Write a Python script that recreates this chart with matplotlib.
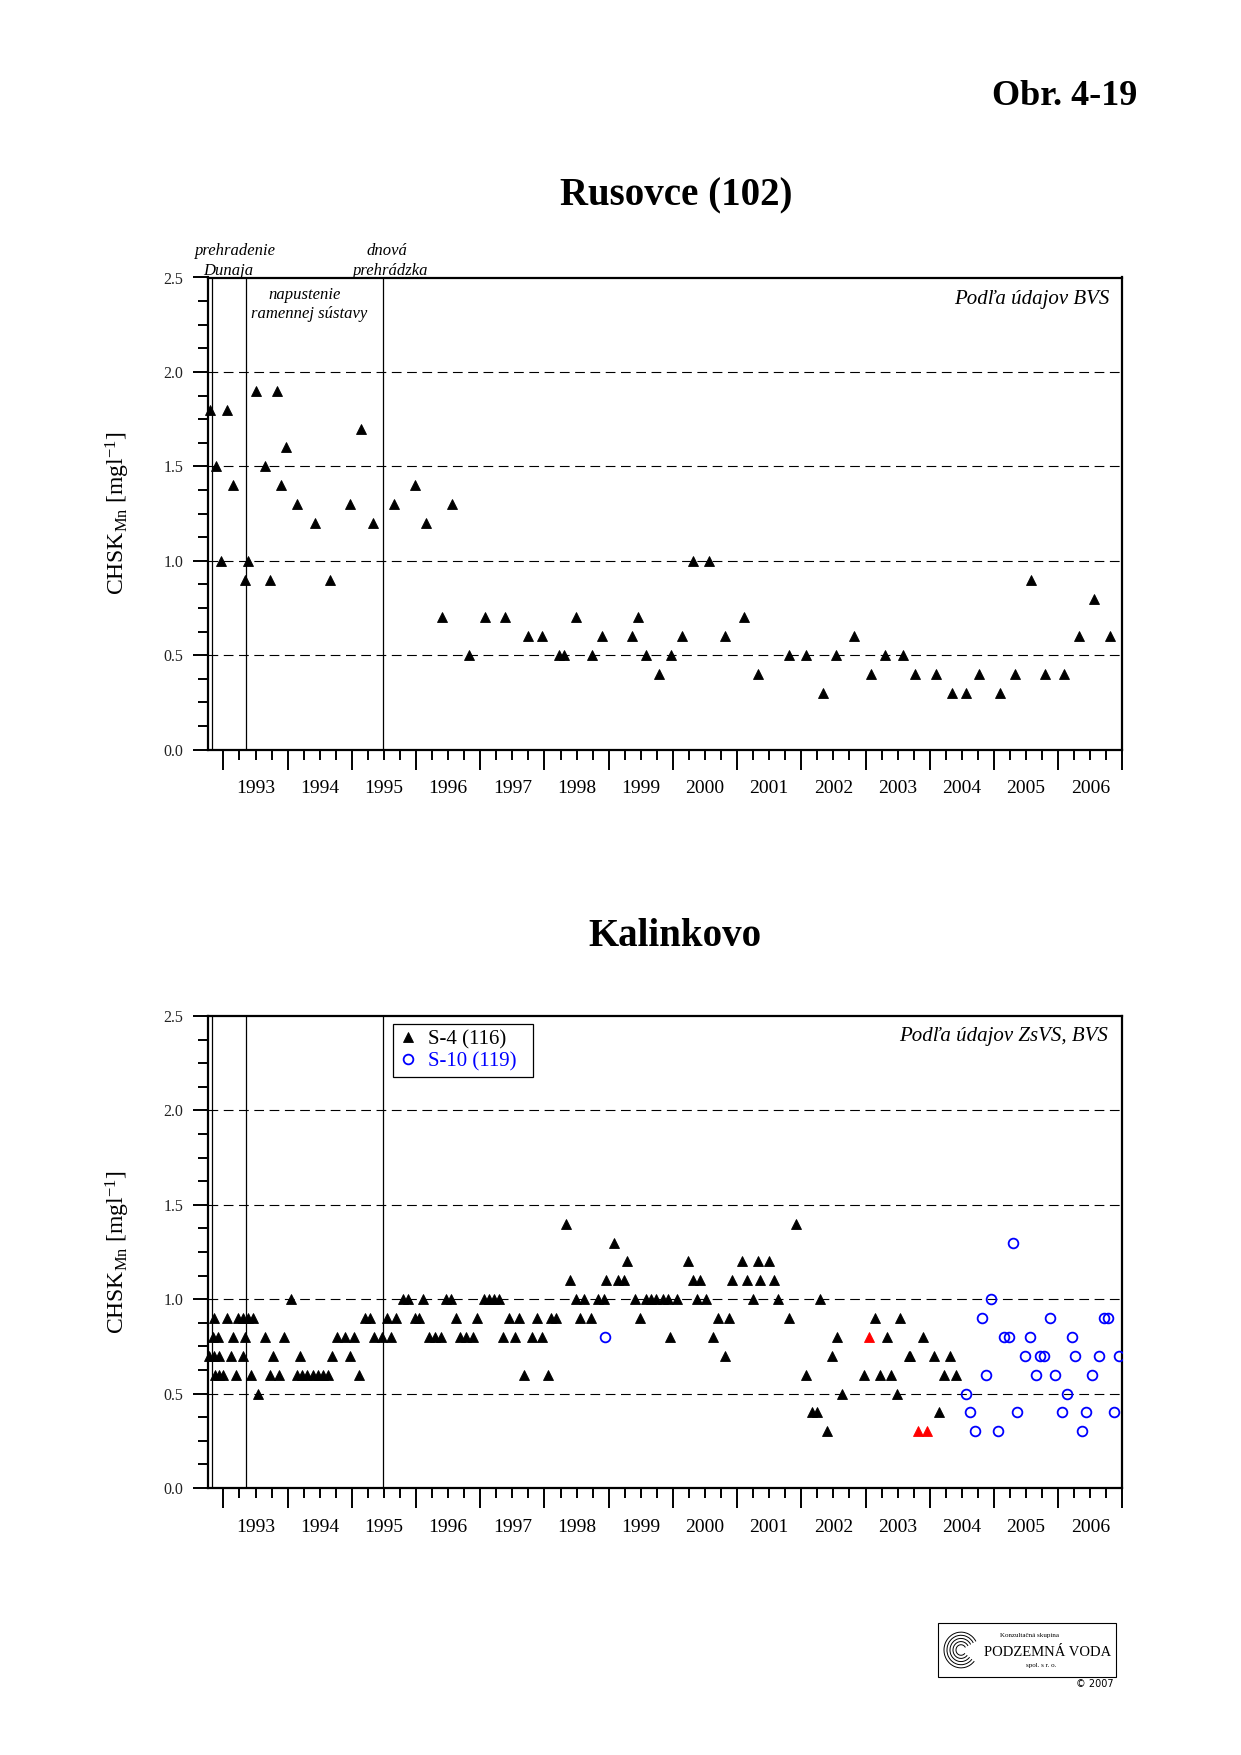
"""
Chart: CHSK_Mn time series for Rusovce (102) and Kalinkovo (Obr. 4-19).
"""

import matplotlib

matplotlib.use("Agg")
from matplotlib import pyplot as plt
from matplotlib.lines import Line2D
from matplotlib.patches import Arc, Rectangle
from matplotlib.ticker import FixedLocator, MultipleLocator, FormatStrFormatter

plt.rcParams["font.family"] = ["Liberation Serif", "DejaVu Serif"]
plt.rcParams["mathtext.fontset"] = "custom"
plt.rcParams["mathtext.rm"] = "Liberation Serif"
plt.rcParams["mathtext.it"] = "Liberation Serif:italic"
plt.rcParams["lines.scale_dashes"] = False

# axis setup
X_LIM = (1992.76, 2007.0)
Y_LIM = (0.0, 2.5)
YEARS = list(range(1993, 2007))
GRID_LEVELS = [0.5, 1.0, 1.5, 2.0]
# prehradenie Dunaja, napustenie ramennej sustavy, dnova prehradzka
EVENTS = [1992.83, 1993.35, 1995.49]

# Rusovce (102)
rus_date = [
    1992.79, 1992.88, 1992.97, 1993.05, 1993.15, 1993.34, 1993.39, 1993.50,
    1993.64, 1993.72, 1993.83, 1993.90, 1993.97, 1994.15, 1994.42, 1994.66,
    1994.97, 1995.15, 1995.33, 1995.66, 1995.98, 1996.16, 1996.40, 1996.56,
    1996.83, 1997.08, 1997.38, 1997.74, 1997.96, 1998.22, 1998.31, 1998.49,
    1998.74, 1998.89, 1999.37, 1999.45, 1999.58, 1999.79, 1999.97, 2000.14,
    2000.31, 2000.56, 2000.81, 2001.10, 2001.33, 2001.81, 2002.07, 2002.33,
    2002.54, 2002.82, 2003.08, 2003.30, 2003.59, 2003.77, 2004.09, 2004.35,
    2004.57, 2004.77, 2005.09, 2005.33, 2005.58, 2005.79, 2006.09, 2006.32,
    2006.55, 2006.80,
]
rus_val = [
    1.8, 1.5, 1.0, 1.8, 1.4, 0.9, 1.0, 1.9,
    1.5, 0.9, 1.9, 1.4, 1.6, 1.3, 1.2, 0.9,
    1.3, 1.7, 1.2, 1.3, 1.4, 1.2, 0.7, 1.3,
    0.5, 0.7, 0.7, 0.6, 0.6, 0.5, 0.5, 0.7,
    0.5, 0.6, 0.6, 0.7, 0.5, 0.4, 0.5, 0.6,
    1.0, 1.0, 0.6, 0.7, 0.4, 0.5, 0.5, 0.3,
    0.5, 0.6, 0.4, 0.5, 0.5, 0.4, 0.4, 0.3,
    0.3, 0.4, 0.3, 0.4, 0.9, 0.4, 0.4, 0.6,
    0.8, 0.6,
]

# Kalinkovo S-4 (116), one line per concentration level
s4_date = [
    1998.34, 2001.91,
    1999.08,
    1999.28, 2000.24, 2001.07, 2001.33, 2001.50,
    1998.40, 1998.96, 1999.14, 1999.24, 2000.31, 2000.42, 2000.92, 2001.16, 2001.36, 2001.57,
    1994.06, 1995.79, 1995.88, 1996.11, 1996.46, 1996.54, 1997.06, 1997.14, 1997.21,
    1997.29, 1998.49, 1998.62, 1998.83, 1998.92, 1999.41, 1999.58, 1999.66, 1999.74,
    1999.84, 1999.92, 2000.07, 2000.38, 2000.51, 2001.24, 2001.64, 2002.29,
    1992.85, 1993.06, 1993.23, 1993.31, 1993.39, 1993.46, 1995.20, 1995.28, 1995.54,
    1995.68, 1995.98, 1996.05, 1996.62, 1996.95, 1997.45, 1997.61, 1997.89, 1998.10,
    1998.18, 1998.56, 1998.72, 1999.49, 2000.71, 2000.87, 2001.81, 2003.14, 2003.53,
    1992.84, 1992.92, 1993.15, 1993.34, 1993.65, 1993.95, 1994.77, 1994.90, 1995.03,
    1995.35, 1995.47, 1995.61, 1996.20, 1996.29, 1996.39, 1996.69, 1996.78, 1996.89,
    1997.36, 1997.54, 1997.81, 1997.96, 1999.95, 2000.62, 2002.56, 2003.33, 2003.89,
    1992.78, 1992.86, 1992.93, 1993.12, 1993.31, 1993.77, 1994.20, 1994.69, 1994.97,
    2000.81, 2002.47, 2003.67, 2003.70, 2004.06, 2004.32,
    1992.87, 1992.93, 1992.99, 1993.20, 1993.43, 1993.72, 1993.87, 1994.14, 1994.22,
    1994.30, 1994.39, 1994.47, 1994.55, 1994.63, 1995.11, 1997.68, 1998.05, 2002.07,
    2002.97, 2003.22, 2003.40, 2004.22, 2004.41,
    1993.54, 2002.64, 2003.49,
    2002.16, 2002.24, 2004.15,
    2002.40,
]
s4_val = [
    1.4, 1.4,
    1.3,
    1.2, 1.2, 1.2, 1.2, 1.2,
    1.1, 1.1, 1.1, 1.1, 1.1, 1.1, 1.1, 1.1, 1.1, 1.1,
    1.0, 1.0, 1.0, 1.0, 1.0, 1.0, 1.0, 1.0, 1.0,
    1.0, 1.0, 1.0, 1.0, 1.0, 1.0, 1.0, 1.0, 1.0,
    1.0, 1.0, 1.0, 1.0, 1.0, 1.0, 1.0, 1.0,
    0.9, 0.9, 0.9, 0.9, 0.9, 0.9, 0.9, 0.9, 0.9,
    0.9, 0.9, 0.9, 0.9, 0.9, 0.9, 0.9, 0.9, 0.9,
    0.9, 0.9, 0.9, 0.9, 0.9, 0.9, 0.9, 0.9, 0.9,
    0.8, 0.8, 0.8, 0.8, 0.8, 0.8, 0.8, 0.8, 0.8,
    0.8, 0.8, 0.8, 0.8, 0.8, 0.8, 0.8, 0.8, 0.8,
    0.8, 0.8, 0.8, 0.8, 0.8, 0.8, 0.8, 0.8, 0.8,
    0.7, 0.7, 0.7, 0.7, 0.7, 0.7, 0.7, 0.7, 0.7,
    0.7, 0.7, 0.7, 0.7, 0.7, 0.7,
    0.6, 0.6, 0.6, 0.6, 0.6, 0.6, 0.6, 0.6, 0.6,
    0.6, 0.6, 0.6, 0.6, 0.6, 0.6, 0.6, 0.6, 0.6,
    0.6, 0.6, 0.6, 0.6, 0.6,
    0.5, 0.5, 0.5,
    0.4, 0.4, 0.4,
    0.3,
]

# S-4 samples drawn in red
s4_red_date = [2003.06, 2003.81, 2003.95]
s4_red_val = [0.8, 0.3, 0.3]

# Kalinkovo S-10 (119)
s10_date = [
    1998.94, 2004.57, 2004.63, 2004.70, 2004.82, 2004.88, 2004.95, 2005.07,
    2005.16, 2005.23, 2005.29, 2005.36, 2005.48, 2005.56, 2005.65, 2005.71,
    2005.78, 2005.88, 2005.95, 2006.06, 2006.14, 2006.22, 2006.26, 2006.37,
    2006.44, 2006.52, 2006.63, 2006.72, 2006.78, 2006.87, 2006.95,
]
s10_val = [
    0.8, 0.5, 0.4, 0.3, 0.9, 0.6, 1.0, 0.3,
    0.8, 0.8, 1.3, 0.4, 0.7, 0.8, 0.6, 0.7,
    0.7, 0.9, 0.6, 0.4, 0.5, 0.8, 0.7, 0.3,
    0.4, 0.6, 0.7, 0.9, 0.9, 0.4, 0.7,
]

W, H = 1241, 1755
TRI = dict(marker="^", ls="none", ms=7.0, mew=0.6)
CIRC = dict(marker="o", ls="none", ms=7.0, mfc="none", mew=1.3, color="blue")


def px_axes(x0, y0, x1, y1):
    """Figure-fraction rectangle from pixel corners (top-left origin)."""
    return [x0 / W, 1 - y1 / H, (x1 - x0) / W, (y1 - y0) / H]


def setup_axis(ax):
    ax.set_xlim(*X_LIM)
    ax.set_ylim(*Y_LIM)
    for sp in ax.spines.values():
        sp.set_linewidth(1.6)

    ax.xaxis.set_major_locator(FixedLocator(YEARS + [2007]))
    quarters = [y + q for y in YEARS for q in (0.25, 0.5, 0.75)]
    ax.xaxis.set_minor_locator(FixedLocator(quarters))
    ax.tick_params(axis="x", which="major", direction="out", length=14.5,
                   width=1.4, labelbottom=False)
    ax.tick_params(axis="x", which="minor", direction="out", length=7.2,
                   width=1.4)

    ax.yaxis.set_major_locator(MultipleLocator(0.5))
    ax.yaxis.set_minor_locator(MultipleLocator(0.125))
    ax.yaxis.set_major_formatter(FormatStrFormatter("%.1f"))
    ax.tick_params(axis="y", which="major", direction="out", length=10.8,
                   width=1.4, pad=7, labelsize=11.5, labelcolor="#222222")
    ax.tick_params(axis="y", which="minor", direction="out", length=7.2,
                   width=1.4)

    for year in YEARS:
        ax.text(year + 0.5, -0.083, str(year), transform=ax.get_xaxis_transform(),
                ha="center", va="center", fontsize=14)

    for level in GRID_LEVELS:
        ax.axhline(level, color="black", lw=0.8, ls=(0, (7, 4)), zorder=1)
    for ev in EVENTS:
        ax.axvline(ev, color="black", lw=0.9, zorder=1)


def draw_logo(fig):
    x0, y0, x1, y1 = 937.7, 1622.6, 1116.8, 1677.4
    lax = fig.add_axes(px_axes(x0, y0, x1, y1))
    lax.set_xlim(x0, x1)
    lax.set_ylim(y1, y0)
    lax.axis("off")
    lax.add_patch(Rectangle((x0 + 0.5, y0 + 0.5), x1 - x0 - 1, y1 - y0 - 1,
                            fill=False, lw=0.8, ec="black", clip_on=False))
    for r in (17, 14, 11, 8, 5):
        lax.add_patch(Arc((961, 1650), 2 * r, 2 * r * 1.05, theta1=40,
                          theta2=330, lw=0.7, color="black"))
    lax.text(1029, 1635, "Konzultačná skupina", ha="center", va="center",
             fontsize=5)
    lax.text(1048, 1653, "PODZEMNÁ VODA", ha="center", va="center",
             fontsize=10.5)
    lax.text(1041, 1666, "spol. s r. o.", ha="center", va="center",
             fontsize=5)
    fig.text(1095 / W, 1 - 1684 / H, "© 2007", ha="center", va="center",
             fontsize=7, family="DejaVu Sans")


def main():
    fig = plt.figure(figsize=(W / 100, H / 100), dpi=100)

    fig.text(1137 / W, 1 - 96.5 / H, "Obr. 4-19", ha="right", va="center",
             fontsize=26, fontweight="bold")
    ylabel = r"CHSK$_{\mathrm{Mn}}$ [mgl$^{\mathrm{-1}}$]"

    # Rusovce
    ax1 = fig.add_axes(px_axes(208, 277.5, 1122.4, 749.7))
    setup_axis(ax1)
    ax1.plot(rus_date, rus_val, color="black", clip_on=False, zorder=3, **TRI)
    fig.text(676 / W, 1 - 196 / H, "Rusovce (102)", ha="center", va="center",
             fontsize=28, fontweight="bold")
    fig.text(118 / W, 1 - 513.6 / H, ylabel, rotation=90, ha="center",
             va="center", fontsize=17)
    ax1.text(0.986, 0.953, "Podľa údajov BVS", transform=ax1.transAxes,
             ha="right", va="center", fontsize=15, style="italic")
    xt = ax1.get_xaxis_transform()
    ax1.text(1993.19, 1.056, "prehradenie", transform=xt, ha="center",
             va="center", fontsize=12, style="italic")
    ax1.text(1993.08, 1.014, "Dunaja", transform=xt, ha="center",
             va="center", fontsize=12, style="italic")
    ax1.text(1995.54, 1.056, "dnová", transform=xt, ha="center",
             va="center", fontsize=12, style="italic")
    ax1.text(1995.61, 1.014, "prehrádzka", transform=xt, ha="center",
             va="center", fontsize=12, style="italic")
    ax1.text(1994.26, 0.962, "napustenie", transform=xt, ha="center",
             va="center", fontsize=12, style="italic")
    ax1.text(1994.34, 0.922, "ramennej sústavy", transform=xt, ha="center",
             va="center", fontsize=12, style="italic")

    # Kalinkovo
    ax2 = fig.add_axes(px_axes(208, 1016, 1122.4, 1488))
    setup_axis(ax2)
    ax2.plot(s4_date, s4_val, color="black", clip_on=False, zorder=3, **TRI)
    ax2.plot(s4_red_date, s4_red_val, color="red", zorder=3, **TRI)
    ax2.plot(s10_date, s10_val, zorder=3, **CIRC)
    fig.text(675 / W, 1 - 936.5 / H, "Kalinkovo", ha="center", va="center",
             fontsize=28, fontweight="bold")
    fig.text(118 / W, 1 - 1252 / H, ylabel, rotation=90, ha="center",
             va="center", fontsize=17)
    ax2.text(0.984, 0.957, "Podľa údajov ZsVS, BVS", transform=ax2.transAxes,
             ha="right", va="center", fontsize=15, style="italic")

    handles = [
        Line2D([], [], color="black", **TRI),
        Line2D([], [], **CIRC),
    ]
    leg = ax2.legend(handles, ["S-4 (116)    ", "S-10 (119)  "], loc="upper left",
                     bbox_to_anchor=(0.2023, 0.983), borderaxespad=0,
                     fontsize=15, frameon=True, fancybox=False,
                     edgecolor="black", framealpha=1, handlelength=0.9,
                     handletextpad=0.5, borderpad=0.28, labelspacing=0.1,
                     labelcolor=["black", "blue"])
    leg.get_frame().set_linewidth(0.9)

    draw_logo(fig)
    fig.savefig("out.png", dpi=100)


if __name__ == "__main__":
    main()
